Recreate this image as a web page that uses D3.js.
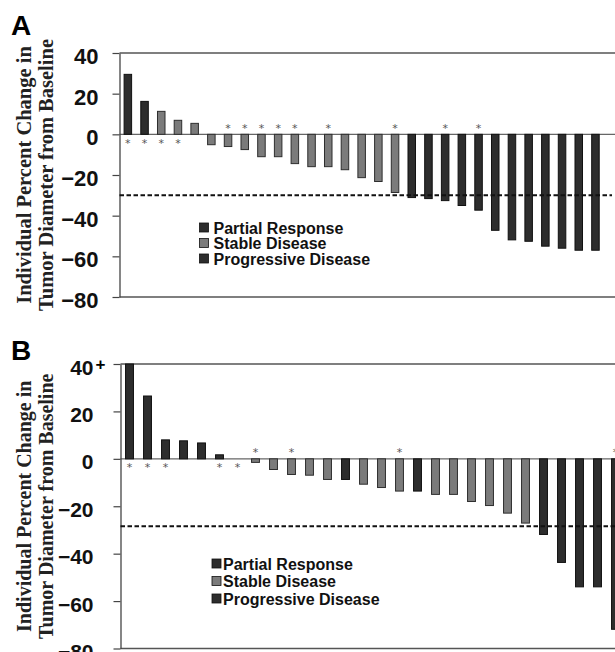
<!DOCTYPE html>
<html>
<head>
<meta charset="utf-8">
<script src="https://cdn.jsdelivr.net/npm/d3@7"></script>
<style>
  body { margin: 0; background: #fff; }
  svg { display: block; }
  .tick text { font-family: "Liberation Sans", Arial, sans-serif; font-weight: bold; fill: #111; }
  .ylab { font-family: "Liberation Serif", "Times New Roman", serif; font-weight: bold; fill: #222; }
  .legend text { font-family: "Liberation Sans", Arial, sans-serif; font-weight: bold; fill: #111; }
</style>
</head>
<body>
<div id="chart"></div>
<script>
// values (percent change per patient)
var valuesA = [29.5, 16.2, 11.3, 6.9, 5.4, -5.1, -6, -7.5, -11, -11, -14.4, -15.9, -15.9, -17.4,
  -21.3, -23.2, -28.6, -31.1, -31.6, -32.6, -35, -37.3, -47.2, -51.9, -52.6, -55, -56, -57, -57];
var respA = ["PD", "PD", "SD", "SD", "SD", "SD", "SD", "SD", "SD", "SD", "SD", "SD", "SD", "SD",
  "SD", "SD", "SD", "PR", "PR", "PR", "PR", "PR", "PR", "PR", "PR", "PR", "PR", "PR", "PR"];
var starBelowA = [0, 1, 2, 3];
var starAboveA = [6, 7, 8, 9, 10, 12, 16, 19, 21];

var valuesB = [40, 26.5, 8, 7.6, 6.7, 1.7, 0, -1.5, -4.5, -6.6, -6.9, -8.7, -8.7, -10.7,
  -12.1, -13.6, -13.6, -15, -15, -18, -19.7, -22.9, -27.1, -31.9, -43.7, -54, -54, -71.9];
var respB = ["PD", "PD", "PD", "PD", "PD", "PD", "SD", "SD", "SD", "SD", "SD", "SD", "PD", "SD",
  "SD", "SD", "PD", "SD", "SD", "SD", "SD", "SD", "SD", "PR", "PR", "PR", "PR", "PR"];
var starBelowB = [0, 1, 2, 5, 6];
var starAboveB = [7, 9, 15, 27];

var yTicks = [40, 20, 0, -20, -40, -60, -80];
var legendLabels = ["Partial Response", "Stable Disease", "Progressive Disease"];
var legendCodes = ["PR", "SD", "PD"];
var cutoffA = -30;
var cutoffB = -28.4;

var fills = { PR: "#2d2d2d", SD: "#7b7b7b", PD: "#2d2d2d" };
var strokes = { PR: "#111", SD: "#2e2e2e", PD: "#111" };

var svgWidth = 615;
var svgHeight = 652;

var svg = d3.select("#chart")
  .append("svg")
  .attr("width", svgWidth)
  .attr("height", svgHeight);

function drawPanel(p) {
  var n = p.values.length;
  var x = d3.scaleBand()
    .domain(d3.range(n))
    .range([p.axisX, p.axisX + n * p.step])
    .paddingInner(p.pad)
    .paddingOuter(p.pad / 2);

  var y = d3.scaleLinear()
    .domain([-80, 40])
    .range([p.bottom, p.top]);

  var g = svg.append("g");

  // panel letter
  g.append("text")
    .attr("x", 11)
    .attr("y", p.letterY)
    .style("font-family", "Liberation Sans, Arial, sans-serif")
    .style("font-weight", "bold")
    .style("font-size", "28px")
    .text(p.letter);

  // y axis label (two lines)
  var ylab = g.append("text")
    .attr("class", "ylab")
    .attr("transform", `translate(0, ${(p.top + p.bottom) / 2}) rotate(-90)`)
    .style("font-size", p.labSize + "px")
    .attr("text-anchor", "middle");
  ylab.append("tspan").attr("x", 0).attr("y", 31).text("Individual Percent Change in");
  ylab.append("tspan").attr("x", 0).attr("y", 53).text("Tumor Diameter from Baseline");

  // frame lines
  [40, -80].forEach(function(v) {
    g.append("line")
      .attr("x1", p.axisX).attr("x2", svgWidth)
      .attr("y1", y(v)).attr("y2", y(v))
      .attr("stroke", "#555").attr("stroke-width", 1.5);
  });

  // zero line
  g.append("line")
    .attr("x1", p.axisX).attr("x2", svgWidth)
    .attr("y1", y(0)).attr("y2", y(0))
    .attr("stroke", "#666").attr("stroke-width", 1.2);

  // axis
  var leftAxis = d3.axisLeft(y)
    .tickValues(yTicks)
    .tickSize(7)
    .tickSizeOuter(0)
    .tickPadding(p.tickPad);

  var ax = g.append("g")
    .attr("transform", `translate(${p.axisX}, 0)`)
    .call(leftAxis);
  ax.select(".domain").attr("stroke", "#444").attr("stroke-width", 1.3);
  ax.selectAll(".tick line").attr("stroke", "#444").attr("stroke-width", 1.2);
  ax.selectAll(".tick text")
    .style("font-size", p.tickSize + "px")
    .attr("dy", "0.48em");

  if (p.plusTop) {
    g.append("text")
      .attr("x", p.axisX - 20)
      .attr("y", y(40))
      .attr("dy", "0.36em")
      .attr("text-anchor", "middle")
      .style("font-family", "Liberation Sans, Arial, sans-serif")
      .style("font-weight", "bold")
      .style("font-size", "17px")
      .text("+");
  }

  // bars
  g.selectAll(".bar")
    .data(p.values)
    .enter()
    .append("rect")
    .attr("class", "bar")
    .attr("x", (d, i) => x(i))
    .attr("width", x.bandwidth())
    .attr("y", d => y(Math.max(0, d)))
    .attr("height", d => Math.abs(y(d) - y(0)))
    .attr("fill", (d, i) => fills[p.resp[i]])
    .attr("stroke", (d, i) => strokes[p.resp[i]])
    .attr("stroke-width", 1);

  // dashed -30% line
  g.append("line")
    .attr("x1", p.axisX).attr("x2", p.dashEnd)
    .attr("y1", y(p.cutoff)).attr("y2", y(p.cutoff))
    .attr("stroke", "#111")
    .attr("stroke-width", 2)
    .attr("stroke-dasharray", "4.5,2.5");

  // asterisks
  g.selectAll(".starB")
    .data(p.starBelow)
    .enter()
    .append("text")
    .attr("x", i => x(i) + x.bandwidth() / 2)
    .attr("y", y(0) + p.starBelowOff)
    .attr("text-anchor", "middle")
    .style("font-family", "DejaVu Sans, sans-serif")
    .style("font-size", "11px")
    .attr("fill", "#555")
    .text("*");

  g.selectAll(".starA")
    .data(p.starAbove)
    .enter()
    .append("text")
    .attr("x", i => x(i) + x.bandwidth() / 2)
    .attr("y", y(0) - p.starAboveOff)
    .attr("text-anchor", "middle")
    .style("font-family", "DejaVu Sans, sans-serif")
    .style("font-size", "11px")
    .attr("fill", "#555")
    .text("*");

  // legend
  var lg = g.append("g")
    .attr("class", "legend")
    .attr("transform", `translate(${p.legX}, ${p.legY})`);
  legendLabels.forEach(function(lab, i) {
    lg.append("rect")
      .attr("x", 0)
      .attr("y", i * p.legGap - 5)
      .attr("width", 9)
      .attr("height", 9)
      .attr("fill", fills[legendCodes[i]])
      .attr("stroke", "#111")
      .attr("stroke-width", 0.8);
    lg.append("text")
      .attr("x", p.legTextX)
      .attr("y", i * p.legGap)
      .attr("dy", "0.36em")
      .style("font-size", "16px")
      .text(lab);
  });
}

drawPanel({
  letter: "A", letterY: 35, values: valuesA, resp: respA,
  starBelow: starBelowA, starAbove: starAboveA, cutoff: cutoffA,
  axisX: 119.5, step: 16.7, pad: 0.55, top: 53, bottom: 297,
  tickPad: 14, tickSize: 22, labSize: 20.5, plusTop: false, dashEnd: 612,
  starBelowOff: 13, starAboveOff: 2,
  legX: 199.5, legY: 228, legGap: 15.5, legTextX: 14
});

drawPanel({
  letter: "B", letterY: 360, values: valuesB, resp: respB,
  starBelow: starBelowB, starAbove: starAboveB, cutoff: cutoffB,
  axisX: 120.5, step: 18, pad: 0.56, top: 364, bottom: 648.5,
  tickPad: 20, tickSize: 21, labSize: 20, plusTop: true, dashEnd: 615,
  starBelowOff: 12, starAboveOff: 3,
  legX: 212, legY: 564, legGap: 17.5, legTextX: 11
});
</script>
</body>
</html>
